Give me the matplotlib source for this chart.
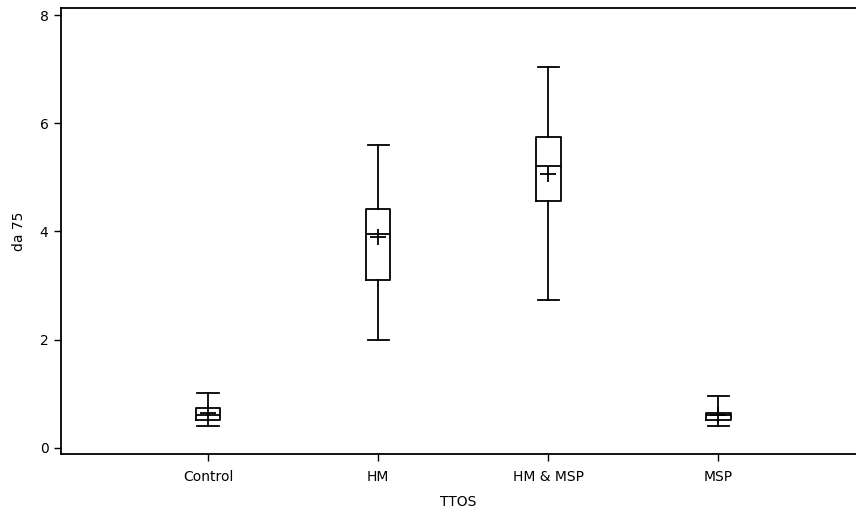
import matplotlib.pyplot as plt

# data
groups = ["Control", "HM", "HM & MSP", "MSP"]
whislo = [0.41, 1.99, 2.73, 0.41]
q1 = [0.52, 3.11, 4.57, 0.51]
med = [0.61, 3.96, 5.20, 0.60]
q3 = [0.73, 4.41, 5.75, 0.64]
whishi = [1.02, 5.59, 7.04, 0.95]
means = [0.65, 3.89, 5.07, 0.60]

plt.rcParams["font.family"] = ["DejaVu Sans"]

fig = plt.figure(figsize=(8.56, 5.18), dpi=100)
ax = fig.add_axes([0.0713, 0.1226, 0.9287, 0.8629])

stats = []
for i, g in enumerate(groups):
    stats.append({"label": g, "whislo": whislo[i], "q1": q1[i], "med": med[i],
                  "q3": q3[i], "whishi": whishi[i], "mean": means[i], "fliers": []})

lw = 1.3
ax.bxp(stats, positions=[1, 2, 3, 4], widths=0.145, showmeans=True,
       boxprops=dict(color="black", linewidth=lw),
       whiskerprops=dict(color="black", linewidth=lw),
       capprops=dict(color="black", linewidth=lw),
       medianprops=dict(color="black", linewidth=lw),
       meanprops=dict(marker="+", markeredgecolor="black", markersize=11, markeredgewidth=1.3),
       capwidths=0.125)

ax.set_xlim(0.135, 4.81)
ax.set_ylim(-0.126, 8.14)
ax.set_yticks([0, 2, 4, 6, 8])
ax.set_xticks([1, 2, 3, 4])
ax.set_xticklabels(groups)
ax.spines["right"].set_visible(False)
for s in ["left", "top", "bottom"]:
    ax.spines[s].set_linewidth(1.3)
ax.tick_params(direction="out", length=5, width=1.0, labelsize=10, colors="black")
ax.tick_params(axis="x", pad=6)
ax.tick_params(axis="y", pad=4)
ax.set_xlabel("TTOS", fontsize=10, labelpad=8)
ax.set_ylabel("da 75", fontsize=10, labelpad=10)

fig.savefig("out.png", dpi=100)
